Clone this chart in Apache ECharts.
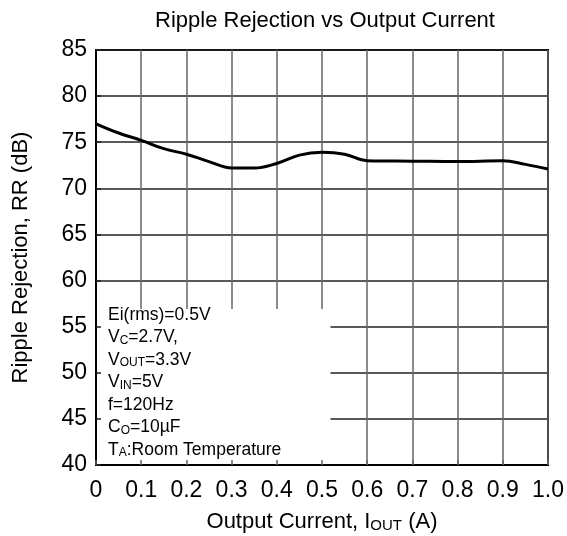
<!DOCTYPE html>
<html>
<head>
<meta charset="utf-8">
<script src="https://cdn.jsdelivr.net/npm/echarts@6/dist/echarts.min.js"></script>
<style>
html,body{margin:0;padding:0;background:#fff;}
#chart{width:567px;height:536px;}
</style>
</head>
<body>
<div id="chart"></div>
<script>
// Data
var currentA = [0, 0.05, 0.1, 0.15, 0.2, 0.25, 0.3, 0.35, 0.4, 0.45, 0.5, 0.55, 0.6, 0.7, 0.8, 0.9, 0.95, 1.0];
var rippleRejectionDb = [77.0, 76.0, 75.2, 74.3, 73.7, 72.9, 72.2, 72.2, 72.7, 73.6, 73.9, 73.7, 73.0, 72.95, 72.9, 73.0, 72.6, 72.1];
var xTickLabels = ['0', '0.1', '0.2', '0.3', '0.4', '0.5', '0.6', '0.7', '0.8', '0.9', '1.0'];
var yTickLabels = ['40', '45', '50', '55', '60', '65', '70', '75', '80', '85'];
var titleText = 'Ripple Rejection vs Output Current';
var yAxisName = 'Ripple Rejection, RR (dB)';
var conditionLines = [
  '{n|Ei(rms)=0.5V}',
  '{n|V}{s|C}{n|=2.7V,}',
  '{n|V}{s|OUT}{n|=3.3V}',
  '{n|V}{s|IN}{n|=5V}',
  '{n|f=120Hz}',
  '{n|C}{s|O}{n|=10µF}',
  '{n|T}{s|A}{n|:Room Temperature}'
];

var FONT = '"Liberation Sans", Arial, sans-serif';
var data = currentA.map(function (x, i) { return [x, rippleRejectionDb[i]]; });

var chart = echarts.init(document.getElementById('chart'), null, {renderer: 'canvas'});
var gridLeft = 96, gridRight = 19, gridTop = 50, gridBottom = 71;

var option = {
  backgroundColor: '#fff',
  animation: false,
  title: {
    text: titleText,
    left: 320,
    top: 5,
    textAlign: 'center',
    textStyle: {fontFamily: FONT, fontSize: 22, fontWeight: 'normal', color: '#000'}
  },
  grid: {
    left: gridLeft, right: gridRight, top: gridTop, bottom: gridBottom,
    containLabel: false, outerBoundsMode: 'none',
    show: true, borderColor: '#000', borderWidth: 2, backgroundColor: 'transparent'
  },
  xAxis: [{
    type: 'value', min: 0, max: 1, interval: 0.1, position: 'bottom', z: 0,
    axisLine: {show: false},
    axisTick: {show: false},
    splitLine: {show: true, lineStyle: {color: '#666', width: 1.5}},
    axisLabel: {
      margin: 14, color: '#000', fontFamily: FONT, fontSize: 23,
      formatter: function (v) { return xTickLabels[Math.round(v * 10)]; }
    },
    name: '{n|Output Current, I}{s|OUT}{n| (A)}',
    nameLocation: 'middle', nameGap: 44,
    nameTextStyle: {
      rich: {
        n: {fontFamily: FONT, fontSize: 22, color: '#000', verticalAlign: 'bottom', lineHeight: 24},
        s: {fontFamily: FONT, fontSize: 15, color: '#000', verticalAlign: 'bottom', lineHeight: 20}
      }
    }
  }, {
    type: 'value', min: 0, max: 1, interval: 0.1, position: 'bottom', z: 10, gridIndex: 0,
    axisLine: {show: true, onZero: false, lineStyle: {color: '#000', width: 2}},
    axisTick: {show: true, inside: true, length: 5, lineStyle: {color: '#666', width: 1.5}},
    splitLine: {show: false},
    axisLabel: {show: false}
  }],
  yAxis: [{
    type: 'value', min: 40, max: 85, interval: 5, z: 0,
    axisLine: {show: false},
    axisTick: {show: false},
    splitLine: {show: true, lineStyle: {color: '#222', width: 1.5}},
    axisLabel: {
      margin: 9, color: '#000', fontFamily: FONT, fontSize: 23,
      formatter: function (v) { return yTickLabels[Math.round((v - 40) / 5)]; }
    },
    name: yAxisName,
    nameLocation: 'middle', nameGap: 64,
    nameTextStyle: {fontFamily: FONT, fontSize: 22, color: '#000'}
  }, {
    type: 'value', min: 40, max: 85, interval: 5, z: 10, gridIndex: 0, position: 'left',
    axisLine: {show: true, onZero: false, lineStyle: {color: '#000', width: 2}},
    axisTick: {show: true, inside: true, length: 5, lineStyle: {color: '#222', width: 1.5}},
    splitLine: {show: false},
    axisLabel: {show: false}
  }],
  graphic: [{
    type: 'rect', z: 5,
    shape: {x: 97.5, y: 309, width: 233, height: 155},
    style: {fill: '#fff'}
  }, {
    type: 'text', z: 6, left: 108, top: 306,
    style: {
      text: conditionLines.join('\n'),
      rich: {
        n: {fontFamily: FONT, fontSize: 17.5, fill: '#000', lineHeight: 22.5, verticalAlign: 'bottom'},
        s: {fontFamily: FONT, fontSize: 12, fill: '#000', lineHeight: 19, verticalAlign: 'bottom'}
      }
    }
  }],
  series: [{
    type: 'line', xAxisIndex: 0, yAxisIndex: 0, z: 20,
    data: data, smooth: 0.4, showSymbol: false,
    lineStyle: {color: '#000', width: 3}
  }]
};
chart.setOption(option);
</script>
</body>
</html>
